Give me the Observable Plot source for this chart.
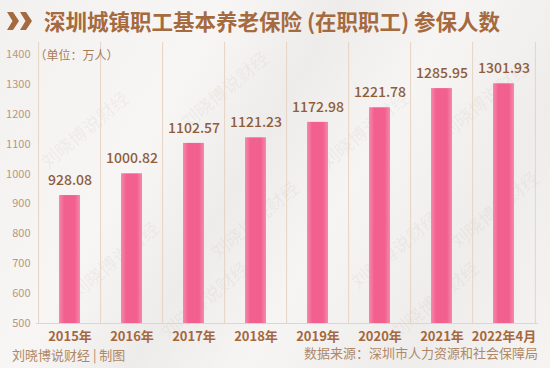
<!DOCTYPE html>
<html><head><meta charset="utf-8">
<script src="https://cdn.jsdelivr.net/npm/d3@7"></script>
<script src="https://cdn.jsdelivr.net/npm/@observablehq/plot@0.6"></script>
<style>
html,body{margin:0;padding:0;}
body{width:550px;height:368px;overflow:hidden;font-family:"Noto Sans CJK SC","Noto Sans",sans-serif;}
#wrap{position:relative;width:550px;height:368px;background:linear-gradient(120deg,#f3f1f0 0%,#f7f6f5 30%,#eeecea 45%,#f6f5f4 60%,#efedeb 80%,#f5f4f3 100%);overflow:hidden;}
#title{position:absolute;left:7px;top:4px;height:34px;display:flex;align-items:center;color:#a56a3e;font-weight:700;font-size:21.5px;line-height:1;white-space:nowrap;}
#title svg{margin-right:11px;}
.wm{position:absolute;color:rgba(170,140,120,0.10);font-size:18px;line-height:1;transform:rotate(-40deg);white-space:nowrap;pointer-events:none;}
#src{position:absolute;right:12px;top:346px;font-size:13px;line-height:1;color:#b08866;}
#credit{position:absolute;left:12px;top:348px;font-size:13px;line-height:1;color:#b08866;}
#chart{position:absolute;left:0;top:0;}
</style></head>
<body><div id="wrap">
<div id="chart"></div>
<div id="title"><svg width="26" height="20" viewBox="0 0 26 20"><polygon points="0,1 6,1 12,10 6,19 0,19 5.5,10" fill="#a56a3e"/><polygon points="13,1 19,1 25,10 19,19 13,19 18.5,10" fill="#a56a3e"/></svg>深圳城镇职工基本养老保险 (在职职工) 参保人数</div>
<div id="src">数据来源：深圳市人力资源和社会保障局</div>
<div id="credit">刘晓博说财经 | 制图</div>
</div>
<script>
const categories = ["2015年","2016年","2017年","2018年","2019年","2020年","2021年","2022年4月"];
const values = [928.08,1000.82,1102.57,1121.23,1172.98,1221.78,1285.95,1301.93];
const yTicks = [500,600,700,800,900,1000,1100,1200,1300,1400];
const unitLabel = "（单位：万人）";
const watermark = "刘晓博说财经";

const data = categories.map((c,i)=>({cat:c, v:values[i]}));
const W = 550, H = 368, mL = 36, mR = 12, mT = 54, mB = 45;
const step = (W - mL - mR) / categories.length;

const wrap = document.getElementById("wrap");
// faint watermarks, kept inside the picture
const wmPos = [[30,120],[170,80],[310,120],[430,90],[60,250],[200,210],[340,240],[440,200],[150,290],[380,290]];
for (const [x,y] of wmPos) {
  const d = document.createElement("div");
  d.className = "wm"; d.textContent = watermark;
  d.style.left = x + "px"; d.style.top = y + "px";
  wrap.insertBefore(d, wrap.firstChild);
}

const chart = Plot.plot({
  width: W, height: H,
  marginLeft: mL, marginRight: mR, marginTop: mT, marginBottom: mB,
  style: {background: "transparent", fontFamily: "'Noto Sans CJK SC','Noto Sans',sans-serif"},
  x: {domain: categories, paddingInner: 0.66, paddingOuter: 0.33, label: null},
  y: {domain: [500, 1400], ticks: yTicks, label: null},
  marks: [
    Plot.ruleX(categories, {x: d=>d, dx: -step/2, stroke: "#e6d3c2", strokeWidth: 1, insetTop: -12}),
    Plot.ruleX(categories.slice(-1), {x: d=>d, dx: step/2, stroke: "#e6d3c2", strokeWidth: 1, insetTop: -12}),
    Plot.ruleY([500], {stroke: "#e6d3c2"}),
    Plot.barY(data, {x: "cat", y1: 500, y2: "v", fill: "url(#barGrad)"}),
    Plot.text(data, {x: "cat", y: "v", text: d=>d.v.toFixed(2), dy: -15, fill: "#8f5d3a", fontSize: 14, fontWeight: 500}),
    Plot.axisY({ticks: yTicks, tickFormat: d=>String(d), tickSize: 0, tickPadding: 6, fill: "#b9977c", fontSize: 11, label: null}),
    Plot.axisX({tickSize: 0, tickPadding: 8, fill: "#a5683c", fontSize: 13, fontWeight: 700, label: null}),
    Plot.text([unitLabel], {frameAnchor: "top-left", dx: -2, dy: -3, fill: "#a87b58", fontSize: 12, textAnchor: "start"})
  ]
});
const defs = d3.select(chart).insert("defs", ":first-child");
const g = defs.append("linearGradient").attr("id","barGrad").attr("x1","0").attr("x2","1").attr("y1","0").attr("y2","0");
g.append("stop").attr("offset","0%").attr("stop-color","#f689ad");
g.append("stop").attr("offset","25%").attr("stop-color","#f2608f");
g.append("stop").attr("offset","75%").attr("stop-color","#f2608f");
g.append("stop").attr("offset","100%").attr("stop-color","#f689ad");
document.getElementById("chart").appendChild(chart);
</script>
</body></html>
